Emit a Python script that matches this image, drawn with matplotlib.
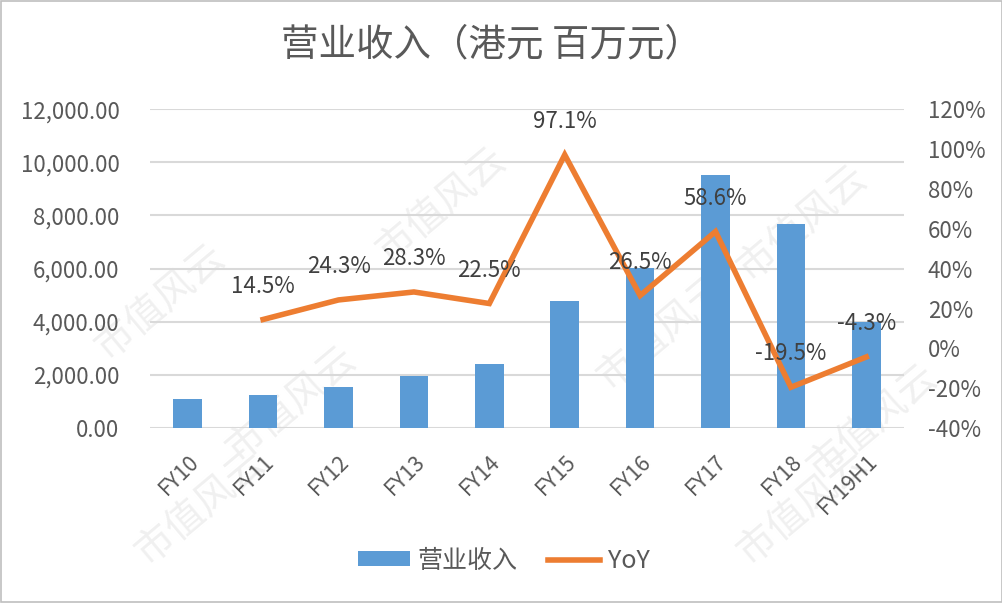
"""营业收入（港元 百万元）柱线组合图：柱为营业收入，折线为同比 YoY。"""
import matplotlib
matplotlib.use("Agg")
import matplotlib.pyplot as plt
from matplotlib.patches import Rectangle
from matplotlib.ticker import FuncFormatter

plt.rcParams["font.family"] = ["Noto Sans CJK SC", "DejaVu Sans"]

years = ["FY10", "FY11", "FY12", "FY13", "FY14", "FY15", "FY16", "FY17", "FY18", "FY19H1"]
revenue = [1085, 1240, 1545, 1970, 2415, 4770, 6025, 9540, 7690, 4000]
yoy = [None, 14.5, 24.3, 28.3, 22.5, 97.1, 26.5, 58.6, -19.5, -4.3]
yoy_labels = ["", "14.5%", "24.3%", "28.3%", "22.5%", "97.1%", "26.5%", "58.6%", "-19.5%", "-4.3%"]

BLUE = "#5B9BD5"
ORANGE = "#ED7D31"
GRID = "#D9D9D9"
TXT = "#595959"

fig = plt.figure(figsize=(10.03, 6.03), dpi=100)
ax = fig.add_axes([0.1496, 0.290, 0.7517, 0.529])
ax2 = ax.twinx()
ax.patch.set_visible(False)
ax2.patch.set_visible(False)

x = list(range(len(years)))
ax.bar(x, revenue, width=0.38, color=BLUE, label="营业收入", zorder=2)
ax.set_ylim(0, 12000)
ax.set_xlim(-0.5, len(years) - 0.5)
ax.set_yticks(range(0, 12001, 2000))
ax.yaxis.set_major_formatter(FuncFormatter(lambda v, _: f"{v:,.2f}"))
ax.grid(axis="y", color=GRID, lw=1.5, zorder=0)
ax.set_axisbelow(True)
ax.set_xticks(x)
ax.set_xticklabels(years, rotation=45, ha="right", rotation_mode="anchor")
ax.tick_params(axis="y", length=0, pad=22, labelsize=16, labelcolor=TXT)
ax.tick_params(axis="x", length=0, pad=16, labelsize=15.5, labelcolor=TXT)

xs = [i for i, v in zip(x, yoy) if v is not None]
ys = [v for v in yoy if v is not None]
ax2.plot(xs, ys, color=ORANGE, lw=4, solid_joinstyle="miter", label="YoY", zorder=3)
ax2.set_ylim(-40, 120)
ax2.set_yticks(range(-40, 121, 20))
ax2.yaxis.set_major_formatter(FuncFormatter(lambda v, _: f"{v:.0f}%"))
ax2.tick_params(axis="y", length=0, pad=17, labelsize=16, labelcolor=TXT)
for i, v in zip(xs, ys):
    ax2.annotate(yoy_labels[i], (i, v), xytext=(0, 24), textcoords="offset points",
                 ha="center", va="center", fontsize=16, color="#404040", zorder=4)

for a in (ax, ax2):
    for s in a.spines.values():
        s.set_visible(False)

fig.text(0.49, 0.925, "营业收入（港元 百万元）", ha="center", va="center",
         fontsize=27, color=TXT)

h1, l1 = ax.get_legend_handles_labels()
h2, l2 = ax2.get_legend_handles_labels()
fig.legend(h1 + h2, l1 + l2, loc="center", bbox_to_anchor=(0.502, 0.07), ncol=2,
           frameon=False, fontsize=18, labelcolor=TXT, handlelength=2.1,
           handleheight=0.55, handletextpad=0.3, columnspacing=1.2)

# 水印
for wx, wy in [(0.16, 0.50), (0.44, 0.66), (0.29, 0.33), (0.80, 0.63), (0.66, 0.45),
               (0.87, 0.30), (0.20, 0.16), (0.80, 0.16)]:
    fig.text(wx, wy, "市值风云", fontsize=28, color="#F0F0F0", rotation=40,
             ha="center", va="center", zorder=-1)

fig.patches.append(Rectangle((0.001, 0.001), 0.998, 0.998, transform=fig.transFigure,
                             fill=False, edgecolor="#BFBFBF", lw=1.2))
fig.savefig("out.png", dpi=100)
